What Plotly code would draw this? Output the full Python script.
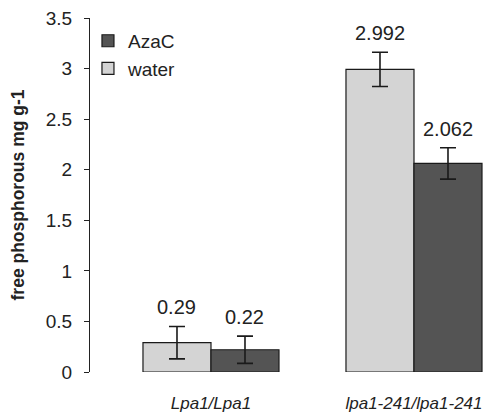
import plotly.graph_objects as go

categories = ["Lpa1/Lpa1", "lpa1-241/lpa1-241"]
water = [0.29, 2.992]
water_err = [0.16, 0.17]
azac = [0.22, 2.062]
azac_err = [0.135, 0.155]
water_labels = ["0.29", "2.992"]
azac_labels = ["0.22", "2.062"]
y_ticks = [0, 0.5, 1, 1.5, 2, 2.5, 3, 3.5]
y_tick_labels = ["0", "0.5", "1", "1.5", "2", "2.5", "3", "3.5"]

bw = 0.335
idx = list(range(len(categories)))
xw = [i - bw / 2 for i in idx]
xa = [i + bw / 2 for i in idx]

FONT = "Liberation Sans, Arial, sans-serif"
fig = go.Figure()
fig.add_trace(go.Bar(
    x=xw, y=water, width=bw, name="water",
    marker=dict(color="#d4d4d4", line=dict(color="#1a1a1a", width=1.2)),
    error_y=dict(type="data", array=water_err, color="#1a1a1a", thickness=1.6, width=8),
))
fig.add_trace(go.Bar(
    x=xa, y=azac, width=bw, name="AzaC",
    marker=dict(color="#545454", line=dict(color="#1a1a1a", width=1.2)),
    error_y=dict(type="data", array=azac_err, color="#1a1a1a", thickness=1.6, width=8),
))

label_x = xw + xa
label_y = [v + e for v, e in zip(water, water_err)] + [v + e for v, e in zip(azac, azac_err)]
label_t = water_labels + azac_labels
for x, y, t in zip(label_x, label_y, label_t):
    fig.add_annotation(x=x, y=y, text=t, showarrow=False, yanchor="bottom", yshift=6,
                       font=dict(size=20, color="#222", family=FONT))

fig.update_layout(
    width=496, height=416,
    margin=dict(l=90, r=0, t=18, b=44, autoexpand=False),
    plot_bgcolor="white", paper_bgcolor="white",
    barmode="overlay",
    font=dict(family=FONT, size=19, color="#222"),
    showlegend=True,
    legend=dict(x=-0.005, y=0.989, xanchor="left", yanchor="top", traceorder="reversed",
                font=dict(size=19, color="#222"), bgcolor="rgba(0,0,0,0)",
                itemwidth=30, tracegroupgap=0),
    xaxis=dict(range=[-0.596, 1.404], tickvals=idx,
               ticktext=["<i>" + c + "</i>" for c in categories],
               showline=False, showgrid=False, zeroline=False, ticks="",
               tickfont=dict(size=17), ticklabelstandoff=19, automargin=False),
    yaxis=dict(range=[0, 3.5], tickvals=y_ticks, ticktext=y_tick_labels,
               showline=True, linecolor="#222", linewidth=1.2, ticks="outside",
               ticklen=5, tickcolor="#222", showgrid=False, zeroline=False,
               tickfont=dict(size=19), ticklabelstandoff=8, automargin=False,
               title=dict(text="<b>free phosphorous mg g-1</b>", font=dict(size=17.5), standoff=16)),
)
fig.write_html("out.html", config={"displayModeBar": False},
               post_script="document.body.style.margin='0px';document.body.style.overflow='hidden';")
